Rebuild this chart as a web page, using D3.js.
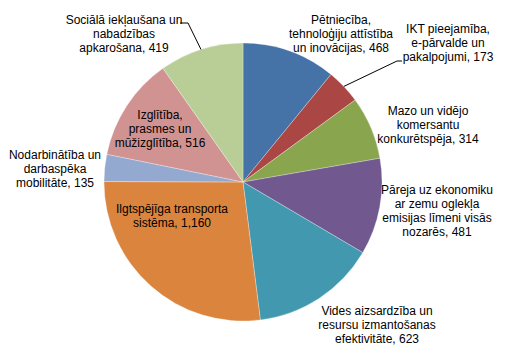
<!DOCTYPE html>
<html><head><meta charset="utf-8">
<script src="https://cdn.jsdelivr.net/npm/d3@7"></script>
<style>body{margin:0;background:#fff}svg{display:block}</style>
</head><body>
<script>
const categories = [
  "Pētniecība, tehnoloģiju attīstība un inovācijas",
  "IKT pieejamība, e-pārvalde un pakalpojumi",
  "Mazo un vidējo komersantu konkurētspēja",
  "Pāreja uz ekonomiku ar zemu oglekļa emisijas līmeni visās nozarēs",
  "Vides aizsardzība un resursu izmantošanas efektivitāte",
  "Ilgtspējīga transporta sistēma",
  "Nodarbinātība un darbaspēka mobilitāte",
  "Izglītība, prasmes un mūžizglītība",
  "Sociālā iekļaušana un nabadzības apkarošana"
];
const values = [468, 173, 314, 481, 623, 1160, 135, 516, 419];
const labelLines = [
  ["Pētniecība,", "tehnoloģiju attīstība", "un inovācijas, 468"],
  ["IKT pieejamība,", "e-pārvalde un", "pakalpojumi, 173"],
  ["Mazo un vidējo", "komersantu", "konkurētspēja, 314"],
  ["Pāreja uz ekonomiku", "ar zemu oglekļa", "emisijas līmeni visās", "nozarēs, 481"],
  ["Vides aizsardzība un", "resursu izmantošanas", "efektivitāte, 623"],
  ["Ilgtspējīga transporta", "sistēma, 1,160"],
  ["Nodarbinātība un", "darbaspēka", "mobilitāte, 135"],
  ["Izglītība,", "prasmes un", "mūžizglītība, 516"],
  ["Sociālā iekļaušana un", "nabadzības", "apkarošana, 419"]
];
const colors = ["#4572A7","#AA4643","#89A54E","#71588F","#4198AF","#DB843D","#93A9CF","#D19392","#B9CD96"];

const W = 521, H = 354, cx = 243, cy = 182, R = 139;
const svg = d3.select("body").append("svg").attr("width", W).attr("height", H);
const pie = d3.pie().sort(null).value(d => d)(values);
const arc = d3.arc().innerRadius(0).outerRadius(R);
const g = svg.append("g").attr("transform", `translate(${cx},${cy})`);
g.selectAll("path").data(pie).join("path")
  .attr("d", arc).attr("fill", (d, i) => colors[i])
  .attr("stroke", "#fff").attr("stroke-width", 0.3);

// label anchor positions (center x, first line y) relative to svg
const labelPos = [
  [341, 24], [448, 33], [428, 115], [437, 194], [377, 315],
  [172, 213], [55, 159], [160, 119], [124, 24]
];
const lh = 14;
labelLines.forEach((lines, i) => {
  const t = svg.append("text")
    .attr("font-family", "'Liberation Sans', Arial, sans-serif")
    .attr("font-size", 12).attr("fill", "#000").attr("text-anchor", "middle");
  lines.forEach((ln, j) => {
    t.append("tspan").attr("x", labelPos[i][0]).attr("y", labelPos[i][1] + j * lh).text(ln);
  });
});

// leader lines
function edgePoint(i, frac) {
  const d = pie[i];
  const a = d.startAngle + (d.endAngle - d.startAngle) * frac;
  return [cx + R * Math.sin(a), cy - R * Math.cos(a)];
}
const p1 = edgePoint(8, 0.5);
svg.append("polyline")
  .attr("points", [[180, 23], [188, 23], [p1[0], p1[1]]].map(p => p.join(",")).join(" "))
  .attr("fill", "none").attr("stroke", "#000").attr("stroke-width", 1);
const p2 = edgePoint(1, 0.5);
svg.append("polyline")
  .attr("points", [[402, 61], [397, 61], [p2[0], p2[1]]].map(p => p.join(",")).join(" "))
  .attr("fill", "none").attr("stroke", "#000").attr("stroke-width", 1);
</script>
</body></html>
